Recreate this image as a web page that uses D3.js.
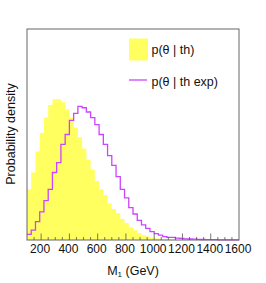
<!DOCTYPE html>
<html>
<head>
<meta charset="utf-8">
<script src="https://cdn.jsdelivr.net/npm/d3@7"></script>
<style>
body { margin: 0; background: #fff; }
text { font-family: "Liberation Sans", Arial, sans-serif; }
</style>
</head>
<body>
<script>
const width = 266;
const height = 283;

// 50 bins of 30 GeV from 100 to 1600
const binStart = 100;
const binWidth = 30;

const thValues = [0.36, 0.48, 0.63, 0.76, 0.87, 0.96, 1.00, 1.00, 0.98, 0.93,
    0.87, 0.80, 0.73, 0.65, 0.57, 0.50, 0.42, 0.36, 0.32, 0.26,
    0.22, 0.19, 0.15, 0.12, 0.09, 0.07, 0.05, 0.036, 0.025, 0.018,
    0.012, 0.009, 0.006, 0.004, 0.002, 0.001, 0.001, 0, 0, 0,
    0, 0, 0, 0, 0, 0, 0, 0, 0, 0];

const thExpValues = [0.04, 0.07, 0.13, 0.20, 0.28, 0.36, 0.48, 0.55, 0.68, 0.75,
    0.85, 0.90, 0.95, 0.94, 0.91, 0.87, 0.82, 0.75, 0.68, 0.60,
    0.53, 0.45, 0.36, 0.30, 0.23, 0.185, 0.14, 0.107, 0.083, 0.06,
    0.045, 0.034, 0.024, 0.019, 0.018, 0.013, 0.011, 0.0085, 0.007, 0.0057,
    0.0043, 0.0035, 0.003, 0.0025, 0.002, 0.0015, 0.001, 0.001, 0.0007, 0.0005];

const xTicks = [200, 400, 600, 800, 1000, 1200, 1400, 1600];
const legendLabels = ["p(\u03b8 | th)", "p(\u03b8 | th exp)"];

const frameLeft = 27, frameRight = 239, frameTop = 29, frameBottom = 240;

let svg = d3.select("body")
    .append("svg")
    .attr("width", width)
    .attr("height", height);

var xScale = d3.scaleLinear()
    .domain([100, 1600])
    .range([frameLeft, frameRight]);

var yScale = d3.scaleLinear()
    .domain([0, 1.5])
    .range([frameBottom, frameTop]);

function stepPoints(values) {
    let pts = [];
    values.forEach(function(v, i) {
        let x0 = binStart + i * binWidth;
        pts.push([x0, v]);
        pts.push([x0 + binWidth, v]);
    });
    return pts;
}

// filled histogram
var area = d3.area()
    .x(function(d) { return xScale(d[0]); })
    .y0(yScale(0))
    .y1(function(d) { return yScale(d[1]); });

svg.append("path")
    .datum(stepPoints(thValues))
    .attr("d", area)
    .attr("fill", "#ffff60");

// line histogram
var line = d3.line()
    .x(function(d) { return xScale(d[0]); })
    .y(function(d) { return yScale(d[1]); });

svg.append("path")
    .datum(stepPoints(thExpValues))
    .attr("d", line)
    .attr("fill", "none")
    .attr("stroke", "#cc44ff")
    .attr("stroke-width", 1.3);

// frame
svg.append("rect")
    .attr("x", frameLeft)
    .attr("y", frameTop)
    .attr("width", frameRight - frameLeft)
    .attr("height", frameBottom - frameTop)
    .attr("fill", "none")
    .attr("stroke", "#666")
    .attr("stroke-width", 1);

// ticks drawn inside the frame
let minor = d3.range(150, 1600, 50);
svg.selectAll(".tick")
    .data(minor)
    .enter()
    .append("line")
    .attr("x1", function(d) { return xScale(d); })
    .attr("x2", function(d) { return xScale(d); })
    .attr("y1", frameBottom)
    .attr("y2", function(d) { return d % 200 == 0 ? frameBottom - 6.5 : frameBottom - 3; })
    .attr("stroke", "#555")
    .attr("stroke-width", 0.8);

svg.selectAll(".xlabel")
    .data(xTicks)
    .enter()
    .append("text")
    .attr("x", function(d) { return xScale(d) - 1; })
    .attr("y", 253)
    .attr("text-anchor", "middle")
    .attr("font-size", 12)
    .attr("fill", "#111")
    .text(function(d) { return d; });

// axis titles
let xt = svg.append("text")
    .attr("x", 133)
    .attr("y", 275)
    .attr("text-anchor", "middle")
    .attr("font-size", 12.5)
    .attr("fill", "#111");
xt.append("tspan").text("M");
xt.append("tspan").attr("font-size", 8).attr("dy", 2).text("1");
xt.append("tspan").attr("dy", -2).text(" (GeV)");

svg.append("text")
    .attr("transform", "translate(15, 134) rotate(-90)")
    .attr("text-anchor", "middle")
    .attr("font-size", 12.5)
    .attr("fill", "#111")
    .text("Probability density");

// legend
svg.append("rect")
    .attr("x", 129)
    .attr("y", 38.5)
    .attr("width", 19)
    .attr("height", 22)
    .attr("fill", "#ffff60");

svg.append("line")
    .attr("x1", 129)
    .attr("x2", 147)
    .attr("y1", 80)
    .attr("y2", 80)
    .attr("stroke", "#cc44ff")
    .attr("stroke-width", 1.3);

svg.selectAll(".legtext")
    .data(legendLabels)
    .enter()
    .append("text")
    .attr("x", 151.5)
    .attr("y", function(d, i) { return i == 0 ? 54 : 85.5; })
    .attr("font-size", 12.5)
    .attr("fill", "#111")
    .text(function(d) { return d; });
</script>
</body>
</html>
